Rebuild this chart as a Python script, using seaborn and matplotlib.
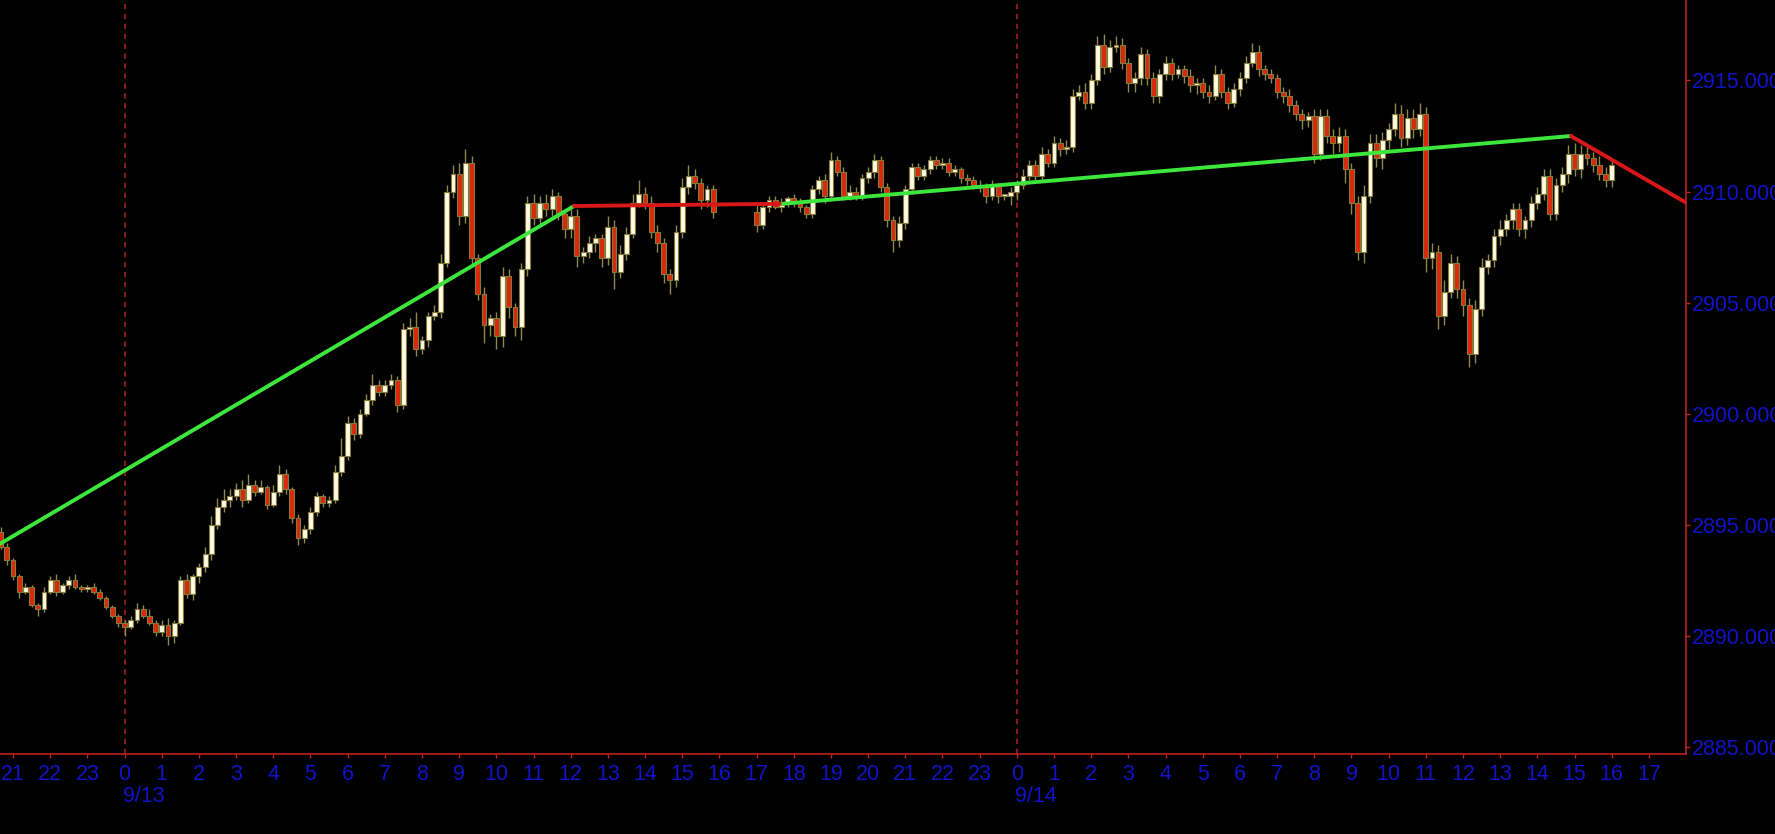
import pandas as pd
import seaborn as sns
import matplotlib.pyplot as plt

sns.set_theme(style='ticks')
plt.rcParams['font.family'] = ['Liberation Sans', 'DejaVu Sans']

# 10 minute candles, 9/12 20:40 -> 9/14 16:00 (no trading 9/13 16:00-17:00)
first_open = 2894.7
closes = [
    2894.0, 2893.4,                                   # 9/12 20:40
    2892.7, 2892.0, 2892.2, 2891.4, 2891.2, 2892.0,   # 21
    2892.5, 2892.0, 2892.3, 2892.5, 2892.2, 2892.1,   # 22
    2892.2, 2892.0, 2891.7, 2891.3, 2890.9, 2890.6,   # 23
    2890.4, 2890.7, 2891.2, 2890.9, 2890.6, 2890.2,   # 9/13 0
    2890.5, 2890.0, 2890.6, 2892.5, 2891.9, 2892.7,   # 1
    2893.1, 2893.7, 2895.0, 2895.8, 2896.1, 2896.3,   # 2
    2896.6, 2896.1, 2896.8, 2896.5, 2896.7, 2895.9,   # 3
    2896.5, 2897.3, 2896.6, 2895.3, 2894.4, 2894.8,   # 4
    2895.6, 2896.3, 2896.0, 2896.1, 2897.4, 2898.1,   # 5
    2899.6, 2899.1, 2900.0, 2900.6, 2901.3, 2901.0,   # 6
    2901.3, 2901.5, 2900.4, 2903.8, 2903.9, 2902.9,   # 7
    2903.3, 2904.4, 2904.6, 2906.8, 2910.0, 2910.8,   # 8
    2908.9, 2911.3, 2907.0, 2905.4, 2904.0, 2904.3,   # 9
    2903.5, 2906.2, 2904.8, 2903.9, 2906.5, 2909.5,   # 10
    2908.8, 2909.5, 2909.2, 2909.8, 2909.0, 2908.3,   # 11
    2908.9, 2907.1, 2907.3, 2907.7, 2907.9, 2907.0,   # 12
    2908.4, 2906.4, 2907.2, 2908.1, 2909.5, 2909.9,   # 13
    2909.5, 2908.2, 2907.7, 2906.3, 2906.0, 2908.2,   # 14
    2910.2, 2910.7, 2910.4, 2909.6, 2910.1, 2909.1,   # 15
    2908.5, 2909.3, 2909.6, 2909.3, 2909.5, 2909.7,   # 17
    2909.5, 2909.3, 2909.0, 2910.1, 2910.5, 2909.8,   # 18
    2911.4, 2910.9, 2909.8, 2910.0, 2909.8, 2910.6,   # 19
    2910.9, 2911.4, 2910.2, 2908.7, 2907.8, 2908.6,   # 20
    2910.1, 2911.1, 2910.7, 2911.0, 2911.4, 2911.2,   # 21
    2911.3, 2910.9, 2911.0, 2910.6, 2910.5, 2910.3,   # 22
    2910.2, 2909.8, 2910.3, 2909.8, 2909.8, 2910.0,   # 23
    2910.3, 2910.7, 2911.2, 2910.7, 2911.7, 2911.3,   # 9/14 0
    2912.2, 2911.9, 2912.0, 2914.3, 2914.5, 2914.0,   # 1
    2915.0, 2916.6, 2915.6, 2916.5, 2916.6, 2915.8,   # 2
    2914.9, 2915.1, 2916.2, 2915.1, 2914.3, 2915.3,   # 3
    2915.8, 2915.3, 2915.5, 2915.2, 2914.8, 2914.9,   # 4
    2914.5, 2914.3, 2915.3, 2914.5, 2914.0, 2914.6,   # 5
    2915.1, 2915.8, 2916.3, 2915.5, 2915.3, 2915.1,   # 6
    2914.5, 2914.3, 2913.9, 2913.5, 2913.2, 2913.4,   # 7
    2911.7, 2913.4, 2912.5, 2912.2, 2912.5, 2911.0,   # 8
    2909.5, 2907.3, 2909.8, 2912.2, 2911.5, 2912.3,   # 9
    2912.8, 2913.5, 2912.4, 2913.3, 2912.8, 2913.5,   # 10
    2907.0, 2907.3, 2904.4, 2905.5, 2906.8, 2905.6,   # 11
    2904.9, 2902.7, 2904.7, 2906.6, 2906.9, 2908.0,   # 12
    2908.3, 2908.7, 2909.2, 2908.3, 2908.7, 2909.5,   # 13
    2909.9, 2910.7, 2909.0, 2910.3, 2910.8, 2911.7,   # 14
    2911.0, 2911.7, 2911.5, 2911.2, 2910.8, 2910.5,   # 15
    2911.2,                                           # 16
]
# wick lengths above / below the body, in tenths of a point
wick_up = [
    2, 2,
    1, 1, 2, 1, 1, 2,
    2, 3, 1, 2, 3, 1,
    1, 2, 1, 1, 1, 1,
    1, 2, 3, 2, 3, 1,
    2, 3, 1, 2, 3, 1,
    2, 3, 4, 4, 5, 3,
    3, 4, 5, 2, 3, 1,
    3, 4, 2, 1, 2, 2,
    2, 2, 1, 2, 3, 8,
    3, 2, 2, 3, 5, 2,
    2, 3, 2, 3, 4, 7,
    2, 2, 3, 4, 3, 4,
    5, 6, 3, 2, 3, 2,
    3, 4, 3, 2, 3, 3,
    4, 3, 4, 3, 2, 2,
    3, 3, 2, 3, 2, 2,
    5, 3, 4, 3, 4, 6,
    3, 3, 3, 2, 2, 3,
    4, 5, 3, 2, 2, 2,
    3, 2, 2, 2, 2, 1,
    2, 2, 1, 2, 2, 3,
    4, 2, 2, 3, 2, 2,
    2, 3, 2, 2, 2, 3,
    2, 2, 2, 2, 2, 2,
    2, 2, 2, 1, 2, 2,
    2, 2, 2, 1, 1, 2,
    2, 3, 2, 2, 3, 2,
    3, 2, 3, 3, 3, 4,
    3, 4, 5, 3, 4, 3,
    2, 3, 3, 2, 3, 2,
    3, 2, 2, 2, 3, 2,
    2, 3, 4, 2, 2, 3,
    3, 3, 4, 3, 2, 2,
    2, 2, 3, 2, 2, 2,
    3, 3, 3, 3, 4, 3,
    3, 3, 5, 4, 4, 4,
    3, 5, 4, 4, 4, 5,
    3, 4, 3, 5, 4, 3,
    4, 3, 4, 4, 3, 3,
    4, 3, 3, 3, 2, 3,
    3, 3, 3, 3, 3, 4,
    5, 4, 3, 3, 4, 3,
    2,
]
wick_dn = [
    1, 2,
    2, 3, 1, 1, 3, 1,
    1, 2, 1, 2, 1, 1,
    1, 1, 1, 1, 1, 2,
    4, 1, 1, 1, 1, 2,
    2, 4, 3, 1, 2, 3,
    3, 2, 3, 2, 2, 3,
    2, 3, 1, 2, 1, 2,
    1, 2, 2, 2, 3, 2,
    2, 2, 2, 2, 1, 2,
    2, 3, 2, 1, 2, 2,
    2, 2, 3, 2, 3, 3,
    2, 3, 2, 3, 2, 3,
    4, 3, 4, 3, 8, 5,
    6, 5, 5, 4, 6, 3,
    3, 3, 3, 3, 3, 4,
    4, 5, 3, 3, 4, 4,
    3, 8, 3, 3, 2, 2,
    3, 3, 4, 4, 6, 3,
    3, 3, 3, 4, 3, 3,
    3, 2, 2, 1, 2, 2,
    2, 2, 2, 2, 2, 3,
    2, 2, 2, 2, 2, 2,
    2, 3, 2, 3, 5, 3,
    3, 2, 2, 2, 2, 2,
    2, 2, 2, 2, 2, 2,
    2, 3, 2, 3, 2, 4,
    4, 2, 2, 2, 2, 2,
    2, 3, 2, 2, 2, 3,
    3, 2, 3, 2, 2, 3,
    4, 4, 3, 3, 3, 3,
    3, 3, 2, 3, 3, 4,
    3, 3, 2, 3, 3, 2,
    3, 2, 2, 3, 3, 2,
    3, 3, 3, 3, 4, 3,
    4, 3, 3, 5, 4, 6,
    5, 4, 5, 3, 4, 5,
    4, 3, 4, 3, 4, 3,
    6, 5, 6, 4, 3, 4,
    5, 6, 4, 3, 3, 3,
    4, 3, 4, 3, 4, 3,
    3, 3, 3, 3, 3, 4,
    3, 4, 3, 3, 3, 3,
    3,
]
session_hours = list(range(-3, 16)) + list(range(17, 40))   # hours from 9/13 00:00

# trend lines (hours from 9/13 00:00, price)
trend_x = [-3.35, 12.09, 17.71, 38.9, 42.0]
trend_y = [2894.15, 2909.35, 2909.45, 2912.5, 2909.5]
trend_colors = ['#3ce63c', '#d81818', '#3ce63c', '#d81818']

day_starts = [0, 24]
day_labels = ['9/13', '9/14']
price_ticks = [2885, 2890, 2895, 2900, 2905, 2910, 2915]

times = [-4 + 4 / 6, -4 + 5 / 6] + [h + m / 6 for h in session_hours for m in range(6)] + [40.0]
df = pd.DataFrame({'t': times, 'close': closes, 'up': wick_up, 'dn': wick_dn})
df['open'] = df['close'].shift(1).fillna(first_open)
df['top'] = df[['open', 'close']].max(axis=1)
df['bot'] = df[['open', 'close']].min(axis=1)
df['high'] = df['top'] + df['up'] / 10
df['low'] = df['bot'] - df['dn'] / 10
df['rising'] = df['close'] >= df['open']

fig = plt.figure(figsize=(17.75, 8.34), dpi=100, facecolor='black')
ax = fig.add_axes([0, 0.0959, 0.9499, 0.9041])
ax.set_facecolor('black')

for d in day_starts:
    ax.axvline(d, color='#b02020', lw=1.1, ls=(0, (3.5, 3)), zorder=1)

ax.vlines(df['t'], df['low'], df['high'], color='#8e8850', lw=1, zorder=2)
body_h = (df['top'] - df['bot']).clip(lower=0.08)
ax.bar(df['t'], body_h, bottom=df['bot'], width=0.13,
       color=['#fffbe2' if r else '#d8290c' for r in df['rising']],
       edgecolor='#86793a', linewidth=0.8, zorder=3)

for i, c in enumerate(trend_colors):
    sns.lineplot(x=trend_x[i:i + 2], y=trend_y[i:i + 2], color=c, lw=2.8,
                 ax=ax, legend=False, zorder=4)

ax.set_xlim(-3.35, 42.0)
ax.set_ylim(2884.69, 2918.62)

for s in ['top', 'left']:
    ax.spines[s].set_visible(False)
for s in ['right', 'bottom']:
    ax.spines[s].set_color('#b82424')
    ax.spines[s].set_linewidth(1.2)

ax.yaxis.tick_right()
ax.set_yticks(price_ticks)
ax.set_yticklabels([f'{v:.4f}' for v in price_ticks])
hour_ticks = list(range(-3, 42))
ax.set_xticks(hour_ticks)
ax.set_xticklabels([str(h % 24) for h in hour_ticks])
ax.tick_params(axis='both', colors='#b82424', labelcolor='#1212c8',
               labelsize=15.5, length=3, width=1, direction='out')
ax.tick_params(axis='x', pad=4)
ax.tick_params(axis='y', pad=1)

for d, lab in zip(day_starts, day_labels):
    ax.text(d - 0.05, -0.057, lab, transform=ax.get_xaxis_transform(),
            color='#1212c8', fontsize=15.5, ha='left', va='center')

ax.set_xlabel('')
ax.set_ylabel('')
ax.grid(False)

fig.savefig('out.png', dpi=100, facecolor='black')
